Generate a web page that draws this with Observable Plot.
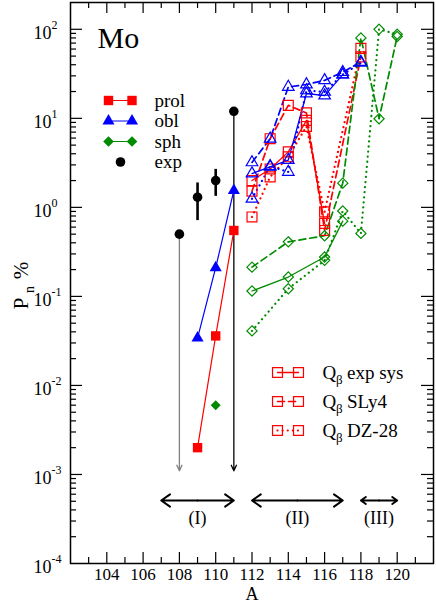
<!DOCTYPE html>
<html><head><meta charset="utf-8">
<script src="https://cdn.jsdelivr.net/npm/d3@7"></script>
<script src="https://cdn.jsdelivr.net/npm/@observablehq/plot@0.6"></script>
<style>body{margin:0;background:#fff}</style>
</head><body><div id="chart"></div>
<script>
// ---------- data ----------
const expA = [108, 109, 110, 111];
const expP = [0.5, 1.3, 2.0, 12];
const expLo = [null, 0.71, 1.33, null];
const expHi = [null, 1.88, 2.67, null];
const expLimitTo = [1.1e-3, null, null, 1.1e-3];
const expLimitColor = ["#808080", null, null, "#000000"];

const prolA = [109, 110, 111];
const prolP = [0.002, 0.036, 0.55];
const oblA = [109, 110, 111];
const oblP = [0.034, 0.21, 1.55];
const sphA = [110];
const sphP = [0.006];

const qbProlExpA = [112, 113, 114, 115, 116];
const qbProlExp  = [2.0, 2.7, 4.2, 9.5, 0.66];
const qbProlSlyA = [112, 113, 114, 115, 116, 118];
const qbProlSly  = [1.52, 5.9, 14, 11.5, 0.55, 49];
const qbProlDzA  = [112, 113, 114, 115, 116, 118];
const qbProlDz   = [0.78, 2.2, 3.7, 8.1, 0.89, 61];

const qbOblExpA = [112, 113, 114, 115, 116, 117];
const qbOblExp  = [2.4, 2.85, 3.4, 19, 18, 31];
const qbOblSlyA = [112, 113, 114, 115, 116, 117, 118];
const qbOblSly  = [3.2, 5.9, 22.5, 24, 26.7, 33, 43];
const qbOblDzA  = [112, 113, 114, 115, 116, 117, 118];
const qbOblDz   = [1.25, 2.9, 2.5, 20.6, 19.8, 31, 42];

const qbSphExpA = [112, 114, 116, 117];
const qbSphExp  = [0.115, 0.165, 0.277, 0.70];
const qbSphSlyA = [112, 114, 116, 117, 118, 119, 120];
const qbSphSly  = [0.213, 0.41, 0.48, 1.87, 80, 9.9, 83];
const qbSphDzA  = [112, 114, 116, 117, 118, 119, 120];
const qbSphDz   = [0.041, 0.122, 0.254, 0.91, 0.51, 100, 88];

const regionFrom  = [107, 112, 118];
const regionTo    = [111, 117, 120];
const regionLabel = ["(I)", "(II)", "(III)"];

const xMajor = [104, 106, 108, 110, 112, 114, 116, 118, 120];
const xMinor = [103, 105, 107, 109, 111, 113, 115, 117, 119, 121];
const yDecades = [-4, -3, -2, -1, 0, 1, 2];

const topLegend = ["prol", "obl", "sph", "exp"];
const qbLegend = ["exp sys", "SLy4", "DZ-28"];

// ---------- layout ----------
const W = 436, H = 604, mL = 70, mR = 3, mT = 2, mB = 41;
const innerW = W - mL - mR, innerH = H - mT - mB;
const xDom = [102, 122], yDom = [1e-4, 200];
const X = px => xDom[0] + (px - mL) * (xDom[1] - xDom[0]) / innerW;
const Y = py => 10 ** (Math.log10(yDom[1]) - (py - mT) * Math.log10(yDom[1] / yDom[0]) / innerH);

const RED = "#ff0000", BLUE = "#0000ff", GREEN = "#008b00";
const zip = (A, P) => A.map((a, i) => ({A: a, P: P[i]}));

const styles = {
  solid:  {strokeWidth: 1.3},
  dashed: {strokeWidth: 1.7, strokeDasharray: "7,4"},
  dotted: {strokeWidth: 2.2, strokeDasharray: "0.1,5", strokeLinecap: "round"}
};
const symR = {square: 5.6, triangle: 4.3, diamond2: 4.6};

const qbSeries = [
  {A: qbProlExpA, P: qbProlExp, c: RED, s: "square", d: "solid"},
  {A: qbProlSlyA, P: qbProlSly, c: RED, s: "square", d: "dashed"},
  {A: qbProlDzA,  P: qbProlDz,  c: RED, s: "square", d: "dotted"},
  {A: qbOblExpA, P: qbOblExp, c: BLUE, s: "triangle", d: "solid"},
  {A: qbOblSlyA, P: qbOblSly, c: BLUE, s: "triangle", d: "dashed"},
  {A: qbOblDzA,  P: qbOblDz,  c: BLUE, s: "triangle", d: "dotted"},
  {A: qbSphExpA, P: qbSphExp, c: GREEN, s: "diamond2", d: "solid"},
  {A: qbSphSlyA, P: qbSphSly, c: GREEN, s: "diamond2", d: "dashed"},
  {A: qbSphDzA,  P: qbSphDz,  c: GREEN, s: "diamond2", d: "dotted"}
];

const marks = [];

// ticks (inward)
const yMinor = [];
for (let k = -4; k <= 1; k++) for (let m = 2; m <= 9; m++) yMinor.push(m * 10 ** k);
const yMajorV = yDecades.map(d => 10 ** d).filter(v => v > yDom[0] && v < yDom[1]);
const tk = {stroke: "black", strokeWidth: 1.2};
marks.push(
  Plot.tickX(xMajor, {x: d => d, insetTop: innerH - 11, ...tk}),
  Plot.tickX(xMinor, {x: d => d, insetTop: innerH - 6, ...tk}),
  Plot.tickX(xMajor, {x: d => d, insetBottom: innerH - 11, ...tk}),
  Plot.tickX(xMinor, {x: d => d, insetBottom: innerH - 6, ...tk}),
  Plot.tickY(yMajorV, {y: d => d, insetRight: innerW - 12, ...tk}),
  Plot.tickY(yMinor, {y: d => d, insetRight: innerW - 6, ...tk}),
  Plot.tickY(yMajorV, {y: d => d, insetLeft: innerW - 12, ...tk}),
  Plot.tickY(yMinor, {y: d => d, insetLeft: innerW - 6, ...tk})
);

// tick labels
marks.push(
  Plot.text(xMajor, {x: d => d, frameAnchor: "bottom", dy: 11, text: d => String(d), fontSize: 17, lineAnchor: "middle"}),
  Plot.text(yDecades, {y: d => 10 ** d, frameAnchor: "left", dx: -19, dy: 4, text: () => "10", textAnchor: "end", fontSize: 18, lineAnchor: "middle"}),
  Plot.text(yDecades, {y: d => 10 ** d, frameAnchor: "left", dx: -19, dy: -4, text: d => String(d), textAnchor: "start", fontSize: 12, lineAnchor: "middle"}),
  Plot.text(["A"], {frameAnchor: "bottom", dy: 31, fontSize: 18, lineAnchor: "middle"}),
  Plot.text(["P"], {x: () => X(21), y: () => Y(303), rotate: -90, fontSize: 21, lineAnchor: "middle"}),
  Plot.text(["n"], {x: () => X(29), y: () => Y(289), rotate: -90, fontSize: 14, lineAnchor: "middle"}),
  Plot.text(["%"], {x: () => X(21), y: () => Y(270), rotate: -90, fontSize: 21, lineAnchor: "middle"})
);

// experimental data
const expData = expA.map((a, i) => ({A: a, P: expP[i], lo: expLo[i], hi: expHi[i], to: expLimitTo[i], c: expLimitColor[i]}));
marks.push(
  Plot.arrow(expData.filter(d => d.to != null), {x1: "A", x2: "A", y1: "P", y2: "to", stroke: d => d.c, strokeWidth: 1.3, headLength: 7, headAngle: 50}),
  Plot.ruleX(expData.filter(d => d.lo != null), {x: "A", y1: "lo", y2: "hi", stroke: "black", strokeWidth: 2.6})
);

// Q-beta series
for (const s of qbSeries) {
  marks.push(Plot.line(zip(s.A, s.P), {x: "A", y: "P", stroke: s.c, ...styles[s.d]}));
}
for (const s of qbSeries) {
  marks.push(Plot.dot(zip(s.A, s.P), {x: "A", y: "P", symbol: s.s, r: symR[s.s], stroke: s.c, fill: "none", strokeWidth: 1.2}));
}

// calculated (filled) series
marks.push(
  Plot.line(zip(prolA, prolP), {x: "A", y: "P", stroke: RED, strokeWidth: 1.2}),
  Plot.line(zip(oblA, oblP), {x: "A", y: "P", stroke: BLUE, strokeWidth: 1.2}),
  Plot.dot(zip(prolA, prolP), {x: "A", y: "P", symbol: "square", r: 5.3, fill: RED}),
  Plot.dot(zip(oblA, oblP), {x: "A", y: "P", symbol: "triangle", r: 4.5, fill: BLUE}),
  Plot.dot(zip(sphA, sphP), {x: "A", y: "P", symbol: "diamond2", r: 4.5, fill: GREEN}),
  Plot.dot(expData, {x: "A", y: "P", r: 4.8, fill: "black"})
);

// regions
const regData = regionLabel.map((l, i) => ({l, a: regionFrom[i], b: regionTo[i], m: (regionFrom[i] + regionTo[i]) / 2}));
const yArrow = Y(500), yRegLabel = Y(518);
marks.push(
  Plot.arrow(regData, {x1: "m", x2: "a", y1: () => yArrow, y2: () => yArrow, stroke: "black", strokeWidth: 2, headLength: 8, headAngle: 70}),
  Plot.arrow(regData, {x1: "m", x2: "b", y1: () => yArrow, y2: () => yArrow, stroke: "black", strokeWidth: 2, headLength: 8, headAngle: 70}),
  Plot.text(regData, {x: "m", y: () => yRegLabel, text: "l", fontSize: 18, lineAnchor: "middle"})
);

// "Mo"
marks.push(Plot.text(["Mo"], {x: () => X(97), y: () => Y(47), textAnchor: "start", lineAnchor: "bottom", fontSize: 30}));

// top-left legend
const tlRows = [100, 120.5, 141, 161.5];
const tlStyle = [
  {c: RED, s: "square", r: 5.3},
  {c: BLUE, s: "triangle", r: 4.5},
  {c: GREEN, s: "diamond2", r: 4.8}
];
tlStyle.forEach((st, i) => {
  const pts = [[X(108), Y(tlRows[i])], [X(131.5), Y(tlRows[i])]];
  marks.push(
    Plot.line(pts, {stroke: st.c, strokeWidth: 1.2}),
    Plot.dot(pts, {symbol: st.s, r: st.r, fill: st.c})
  );
});
marks.push(
  Plot.dot([[X(120), Y(tlRows[3])]], {r: 4.8, fill: "black"}),
  Plot.text(topLegend, {x: () => X(154), y: (d, i) => Y(tlRows[i]), text: d => d, textAnchor: "start", lineAnchor: "middle", fontSize: 19})
);

// bottom-right legend
const brRows = [372, 401, 430];
const brDash = ["solid", "dashed", "dotted"];
brRows.forEach((r, i) => {
  const pts = [[X(277), Y(r)], [X(298), Y(r)]];
  marks.push(
    Plot.line(pts, {stroke: RED, ...styles[brDash[i]]}),
    Plot.dot(pts, {symbol: "square", r: 5.6, stroke: RED, fill: "none", strokeWidth: 1.2})
  );
});
marks.push(
  Plot.text(qbLegend, {x: () => X(322), y: (d, i) => Y(brRows[i]), text: () => "Q", textAnchor: "start", lineAnchor: "middle", fontSize: 19}),
  Plot.text(qbLegend, {x: () => X(335.5), y: (d, i) => Y(brRows[i] + 7), text: () => "β", textAnchor: "start", lineAnchor: "middle", fontSize: 13}),
  Plot.text(qbLegend, {x: () => X(346.5), y: (d, i) => Y(brRows[i]), text: d => d, textAnchor: "start", lineAnchor: "middle", fontSize: 19})
);

marks.push(Plot.frame({stroke: "black", strokeWidth: 1.5}));

const chart = Plot.plot({
  width: W, height: H,
  marginLeft: mL, marginRight: mR, marginTop: mT, marginBottom: mB,
  x: {type: "linear", domain: xDom, axis: null},
  y: {type: "log", domain: yDom, axis: null},
  style: {fontFamily: "'Liberation Serif', 'Times New Roman', serif", background: "white", color: "black", overflow: "visible"},
  marks
});
document.getElementById("chart").appendChild(chart);
</script>
</body></html>
